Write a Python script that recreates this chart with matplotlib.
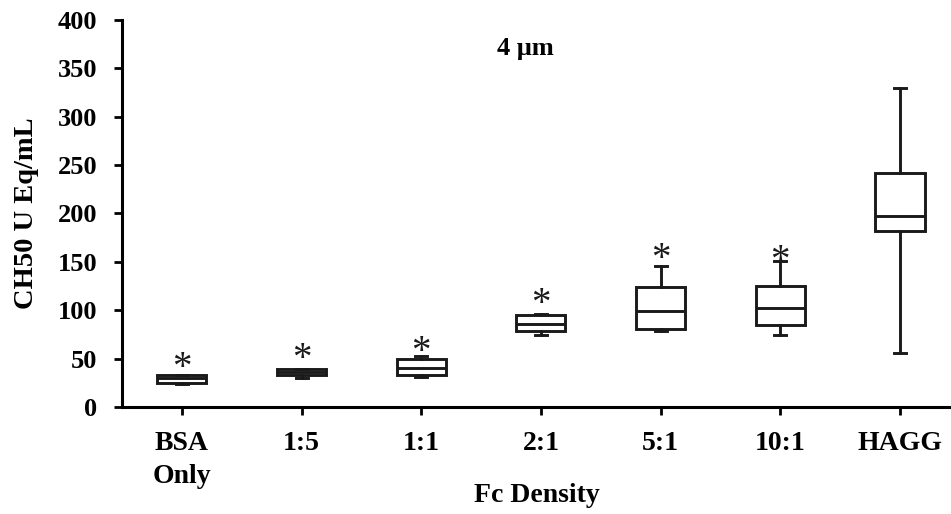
import matplotlib
matplotlib.use("Agg")
import matplotlib.pyplot as plt
from matplotlib.transforms import offset_copy

# Fc density groups and box summary values (CH50 U Eq/mL)
groups = ["BSA\nOnly", "1:5", "1:1", "2:1", "5:1", "10:1", "HAGG"]
whislo = [23.8, 30.0, 31.0, 74.4, 79.0, 74.8, 55.5]
q1 = [25.1, 33.0, 32.7, 78.9, 80.3, 84.4, 181.6]
med = [29.5, 36.5, 40.3, 85.4, 99.6, 102.3, 197.4]
q3 = [32.7, 39.0, 49.3, 95.0, 123.7, 125.4, 241.5]
whishi = [32.7, 39.0, 53.0, 96.0, 146.0, 150.6, 329.7]
# significance markers (None = no marker)
star_y = [46.8, 56.0, 64.0, 113.0, 159.5, 158.0, None]

plt.rcParams["font.family"] = ["Liberation Serif", "DejaVu Serif"]
plt.rcParams["font.weight"] = "bold"

fig = plt.figure(figsize=(9.51, 5.14), dpi=100)
ax = fig.add_axes([0.1283, 0.2082, 0.8717, 0.7529])

stats = []
for i in range(len(groups)):
    stats.append({"whislo": whislo[i], "q1": q1[i], "med": med[i],
                  "q3": q3[i], "whishi": whishi[i], "fliers": []})

lw = 2.1
ink = "#1a1a1a"
ax.bxp(stats, positions=range(len(groups)), widths=0.41, showfliers=False,
       patch_artist=True, capwidths=0.1,
       boxprops=dict(facecolor="white", edgecolor=ink, linewidth=lw),
       medianprops=dict(color=ink, linewidth=lw),
       whiskerprops=dict(color=ink, linewidth=lw),
       capprops=dict(color=ink, linewidth=lw))

# asterisk glyph sits high in its box, nudge it down a little
star_tr = offset_copy(ax.transData, fig=fig, x=0, y=-5, units="points")
for i, y in enumerate(star_y):
    if y is not None:
        ax.text(i, y, "*", ha="center", va="center", fontsize=28,
                fontweight="normal", color=ink, transform=star_tr)

ax.text(2.87, 371, "4 \u03bcm", ha="center", va="center", fontsize=19,
        fontweight="bold")

ax.set_xlim(-0.5, 6.426)
ax.set_ylim(0, 400)
ax.set_yticks(range(0, 401, 50))
ax.set_xticks(range(len(groups)))
ax.set_xticklabels(groups, fontsize=20, fontweight="bold", linespacing=1.42)
ax.tick_params(axis="y", labelsize=19, direction="out", length=6, width=2, pad=12)
ax.tick_params(axis="x", direction="out", length=6, width=2, pad=11)
for lbl in ax.get_yticklabels():
    lbl.set_fontweight("bold")

ax.spines["top"].set_visible(False)
ax.spines["right"].set_visible(False)
ax.spines["left"].set_linewidth(2.2)
ax.spines["bottom"].set_linewidth(2.2)

ax.set_ylabel("CH50 U Eq/mL", fontsize=20.5, fontweight="bold", labelpad=13)
ax.set_xlabel("Fc Density", fontsize=20, fontweight="bold", labelpad=-4)

fig.savefig("out.png", dpi=100)
